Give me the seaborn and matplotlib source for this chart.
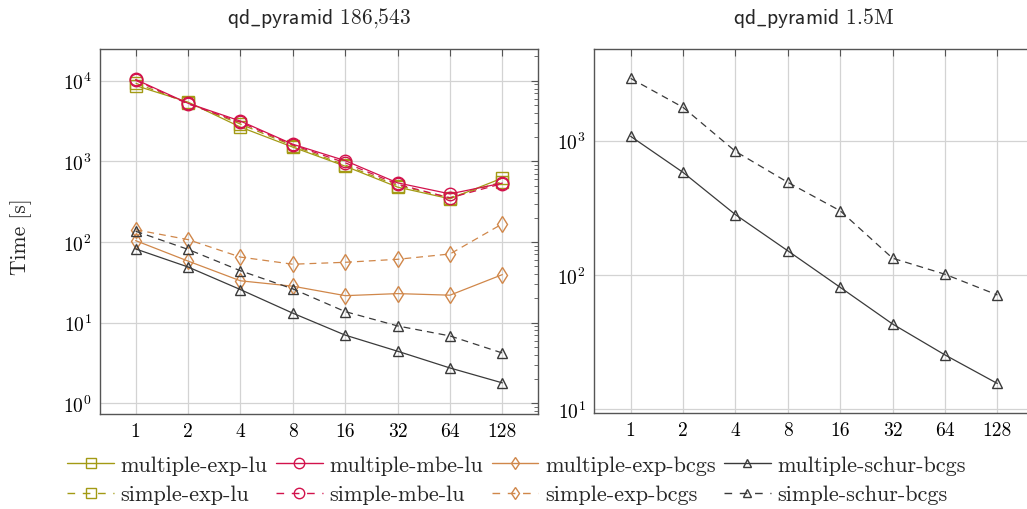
import numpy as np
import pandas as pd
import matplotlib
matplotlib.use("Agg")
import matplotlib.pyplot as plt
import seaborn as sns
from matplotlib.lines import Line2D
from matplotlib.ticker import LogLocator, FixedLocator, FixedFormatter, NullFormatter

# ---------------- data ----------------
ranks = [1, 2, 4, 8, 16, 32, 64, 128]
rank_labels = ["1", "2", "4", "8", "16", "32", "64", "128"]

# left panel: qd_pyramid 186,543
multiple_exp_lu = [8700, 5430, 2660, 1500, 871, 479, 343, 620]
simple_exp_lu = [9300, 5300, 2900, 1560, 900, 500, 355, 560]
multiple_mbe_lu = [10350, 5250, 3160, 1630, 1020, 541, 395, 537]
simple_mbe_lu = [10100, 5150, 3050, 1600, 960, 520, 352, 530]
multiple_exp_bcgs = [104, 58, 33, 28.3, 21.6, 22.9, 21.9, 39.4]
simple_exp_bcgs = [142, 107, 65, 53, 56, 61, 71, 168]
multiple_schur_bcgs = [82, 49, 25.7, 13.1, 7.0, 4.42, 2.74, 1.79]
simple_schur_bcgs = [136, 81, 44, 26.2, 13.7, 9.1, 6.84, 4.2]

# right panel: qd_pyramid 1.5M
multiple_schur_bcgs_15m = [1077, 580, 281, 151, 80.7, 43, 25.3, 15.5]
simple_schur_bcgs_15m = [2911, 1771, 832, 489, 300, 133, 101, 70.8]

titles = [r"$\mathsf{qd\_pyramid}$ 186,543", r"$\mathsf{qd\_pyramid}$ 1.5M"]
ylabel = "Time [s]"

# ---------------- style ----------------
sns.set_theme(style="white")
plt.rcParams["font.family"] = ["cmr10", "DejaVu Serif"]
plt.rcParams["mathtext.fontset"] = "cm"
plt.rcParams["axes.unicode_minus"] = False
plt.rcParams["axes.formatter.use_mathtext"] = True

OLIVE = "#a39a14"
CRIMSON = "#d2124c"
ORANGE = "#d0874a"
BLACK = "#3a3a3a"

series_left = [
    ("multiple-exp-lu", multiple_exp_lu, OLIVE, "s", "-", 9),
    ("simple-exp-lu", simple_exp_lu, OLIVE, "s", "--", 9),
    ("multiple-mbe-lu", multiple_mbe_lu, CRIMSON, "o", "-", 9),
    ("simple-mbe-lu", simple_mbe_lu, CRIMSON, "o", "--", 9),
    ("multiple-exp-bcgs", multiple_exp_bcgs, ORANGE, "d", "-", 8),
    ("simple-exp-bcgs", simple_exp_bcgs, ORANGE, "d", "--", 8),
    ("multiple-schur-bcgs", multiple_schur_bcgs, BLACK, "^", "-", 7),
    ("simple-schur-bcgs", simple_schur_bcgs, BLACK, "^", "--", 7),
]
series_right = [
    ("multiple-schur-bcgs", multiple_schur_bcgs_15m, BLACK, "^", "-", 7),
    ("simple-schur-bcgs", simple_schur_bcgs_15m, BLACK, "^", "--", 7),
]

W, H = 1027, 510
fig = plt.figure(figsize=(W / 100, H / 100), dpi=100)

def axrect(x0, y0, x1, y1):
    return [x0 / W, 1 - y1 / H, (x1 - x0) / W, (y1 - y0) / H]

ax1 = fig.add_axes(axrect(100, 50, 538, 415))
ax2 = fig.add_axes(axrect(594, 50, 1034, 413.5))

def draw(ax, series):
    for name, vals, col, mk, ls, ms in series:
        df = pd.DataFrame({"rank": ranks, "time": vals})
        sns.lineplot(data=df, x="rank", y="time", ax=ax, color=col, marker=mk,
                     markersize=ms, markerfacecolor="none", markeredgecolor=col,
                     markeredgewidth=1.0, linewidth=0.9, legend=False)
        ax.lines[-1].set_linestyle("-" if ls == "-" else (0, (5.5, 4)))

draw(ax1, series_left)
draw(ax2, series_right)

FS = 14
for ax, lim, title in [
    (ax1, (10 ** -0.133, 10 ** 4.393), titles[0]),
    (ax2, (10 ** 0.974, 10 ** 3.683), titles[1]),
]:
    ax.set_xscale("log", base=2)
    ax.set_yscale("log")
    ax.set_ylim(*lim)
    ax.xaxis.set_major_locator(FixedLocator(ranks))
    ax.xaxis.set_major_formatter(FixedFormatter(rank_labels))
    ax.xaxis.set_minor_locator(FixedLocator([]))
    ax.yaxis.set_major_locator(LogLocator(base=10, numticks=20))
    ax.yaxis.set_minor_locator(LogLocator(base=10, subs=np.arange(2, 10), numticks=20))
    ax.yaxis.set_minor_formatter(NullFormatter())
    ax.grid(True, which="major", color="#d3d3d3", linewidth=0.9)
    ax.tick_params(axis="both", which="both", direction="in", top=True, right=True,
                   colors="#555555", labelcolor="black", labelsize=FS)
    ax.tick_params(which="major", length=5, width=0.8)
    ax.tick_params(which="minor", length=3, width=0.6)
    ax.tick_params(axis="x", pad=6)
    ax.tick_params(axis="y", pad=6)
    for sp in ax.spines.values():
        sp.set_color("#555555")
        sp.set_linewidth(1.0)
    ax.set_xlabel("")
    ax.set_ylabel("")
    ax.set_title(title, fontsize=15.5, pad=19)

ax1.set_xlim(2 ** -0.68, 2 ** 7.68)
ax2.set_xlim(2 ** -0.70, 2 ** 7.70)
ax1.set_ylabel(ylabel, fontsize=15.5)
ax1.yaxis.set_label_coords(-0.155, 0.49)

# legend (column-major order gives two rows: multiple-*, simple-*)
handles, labels = [], []
for name, vals, col, mk, ls, ms in series_left:
    h = Line2D([], [], color=col, marker=mk, markersize=ms - 1.5, markerfacecolor="none",
               markeredgecolor=col, linewidth=1.0,
               linestyle="-" if ls == "-" else (0, (5.5, 5.5)))
    handles.append(h)
    labels.append(name)
fig.legend(handles, labels, ncol=4, loc="upper center", bbox_to_anchor=(0.503, 1 - 443 / H),
           frameon=False, fontsize=16, handlelength=2.1, handletextpad=0.3,
           columnspacing=0.38, labelspacing=0.45, borderpad=0.1)

fig.savefig("out.png", dpi=100)
